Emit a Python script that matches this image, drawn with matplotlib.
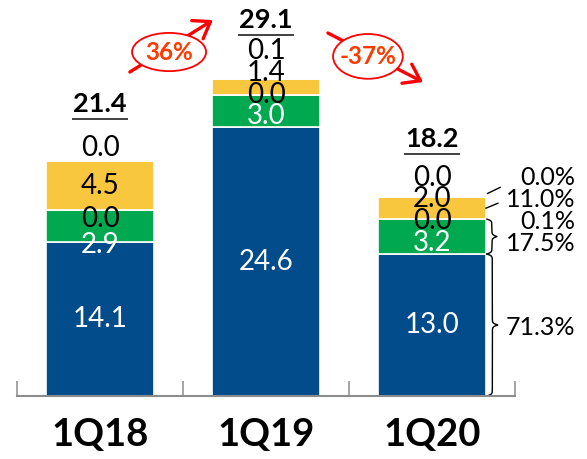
import numpy as np
import matplotlib
matplotlib.use("Agg")
import matplotlib.pyplot as plt
from matplotlib.patches import Ellipse, FancyArrowPatch

plt.rcParams["font.family"] = ["Lato", "DejaVu Sans"]

categories = ["1Q18", "1Q19", "1Q20"]
blue_vals = [14.1, 24.6, 13.0]
green_a = [2.9, 3.0, 3.2]
green_b = [0.0, 0.0, 0.0]
yellow_vals = [4.5, 1.4, 2.0]
top_vals = [0.0, 0.1, 0.0]
totals = [21.4, 29.1, 18.2]
growth = ["36%", "-37%"]
share_1q20 = ["71.3%", "17.5%", "0.1%", "11.0%", "0.0%"]

BLUE = "#034C8C"
GREEN = "#00A94F"
YELLOW = "#F9C73D"
TOPC = "#E3EEEE"
RED = "#FF0000"
RED_TXT = "#FF3A00"
GRAY = "#8C8C8C"

fig = plt.figure(figsize=(5.87, 4.59), dpi=100)
ax = fig.add_axes([17 / 587, 1 - 396 / 459, 498 / 587, 396 / 459])
ax.set_xlim(-0.5, 2.5)
ax.set_ylim(0, 396 / 10.92)

x = np.arange(len(categories))
w = 0.65
series = [blue_vals, green_a, green_b, yellow_vals, top_vals]
colors = [BLUE, GREEN, GREEN, YELLOW, TOPC]
bottom = np.zeros(len(categories))
for vals, c in zip(series, colors):
    ax.bar(x, vals, w, bottom=bottom, color=c, edgecolor="white",
           linewidth=1.2, zorder=2)
    bottom += np.array(vals)


def label_ys(i):
    # stack the small labels so they do not sit on top of each other
    b, ga, gb, yl = blue_vals[i], green_a[i], green_b[i], yellow_vals[i]
    ys = [b / 2]
    cur = b + (1.0 if yl < 3 else -0.3)
    ys.append(cur)
    cur = max(cur + 2.0, b + ga + gb / 2 - 0.8)
    ys.append(cur)
    cur = max(cur + 2.0, b + ga + gb + yl / 2)
    ys.append(cur)
    cur = max(cur + 2.0, totals[i] + 1.3)
    ys.append(cur)
    return ys


txt_colors = ["white", "white", "black", "black", "black"]
for i in range(len(categories)):
    ys = label_ys(i)
    for k, vals in enumerate(series):
        ax.text(x[i], ys[k], f"{vals[i]:.1f}", ha="center", va="center",
                fontsize=20, color=txt_colors[k], zorder=4)
    ty = totals[i] + 5.3
    ax.text(x[i], ty, f"{totals[i]:.1f}", ha="center", va="center",
            fontsize=19.5, fontweight="bold", zorder=4)
    ax.plot([x[i] - 0.163, x[i] + 0.163], [totals[i] + 3.93] * 2,
            color="#404040", lw=1.4, clip_on=False)

# share of 1Q20 on the right
ys3 = label_ys(2)
for k, s in enumerate(share_1q20):
    yy = ys3[k] if k > 0 else ys3[0] - 0.2
    ax.text(2.865, yy, s, ha="right", va="center", fontsize=18, clip_on=False)


def brace(x0, y0, y1, width, beta=12):
    yy = np.linspace(y0, y1, 401)
    half = yy[:201]
    xh = 1 / (1 + np.exp(-beta * (half - half[0]))) + \
        1 / (1 + np.exp(-beta * (half - half[-1])))
    xh = xh - xh.min()
    xh = xh / xh.max()
    xc = np.concatenate([xh, xh[-2::-1]])
    ax.plot(x0 + xc * width, yy, color="black", lw=1.0, clip_on=False)


edge = x[2] + w / 2
brace(edge + 0.006, 0, blue_vals[2], 0.065)
brace(edge + 0.006, blue_vals[2], blue_vals[2] + green_a[2] + green_b[2], 0.06)
ymid = blue_vals[2] + green_a[2] + green_b[2] + yellow_vals[2] / 2
ax.plot([edge, edge + 0.072], [ymid, ymid + 0.45], color="black", lw=1.0,
        clip_on=False)
ax.plot([edge + 0.01, edge + 0.085], [totals[2] + 0.35, totals[2] + 0.9],
        color="black", lw=1.0, clip_on=False)

# growth bubbles
bubbles = [
    (0.416, 31.5, 0.446, 3.5, (-0.236, -1.83), (0.264, 2.93)),
    (1.614, 31.1, 0.42, 4.1, (-0.241, 2.14), (0.332, -2.35)),
]
for g, (cx, cy, ew, eh, a0, a1) in zip(growth, bubbles):
    arr = FancyArrowPatch((cx + a0[0], cy + a0[1]), (cx + a1[0], cy + a1[1]),
                          arrowstyle="->,head_length=0.5,head_width=0.35",
                          mutation_scale=22, lw=2.4, color=RED,
                          shrinkA=0, shrinkB=0, zorder=5, clip_on=False)
    ax.add_patch(arr)
    ax.add_patch(Ellipse((cx, cy), ew, eh, facecolor="white", edgecolor=RED,
                         lw=1.3, zorder=6, clip_on=False))
    ax.text(cx, cy, g, ha="center", va="center", fontsize=17.5,
            fontweight="bold", color=RED_TXT, zorder=7)

# axes styling
for s in ["left", "right", "top"]:
    ax.spines[s].set_visible(False)
ax.spines["bottom"].set_color(GRAY)
ax.spines["bottom"].set_linewidth(1.5)
ax.yaxis.set_visible(False)
ax.set_xticks(x)
ax.set_xticklabels(categories, fontsize=27.5, fontweight="bold")
ax.tick_params(axis="x", which="major", length=0, pad=16)
ax.set_xticks([-0.5, 0.5, 1.5, 2.5], minor=True)
ax.tick_params(axis="x", which="minor", direction="in", length=11,
               width=1.1, color=GRAY)

fig.savefig("out.png", dpi=100)
